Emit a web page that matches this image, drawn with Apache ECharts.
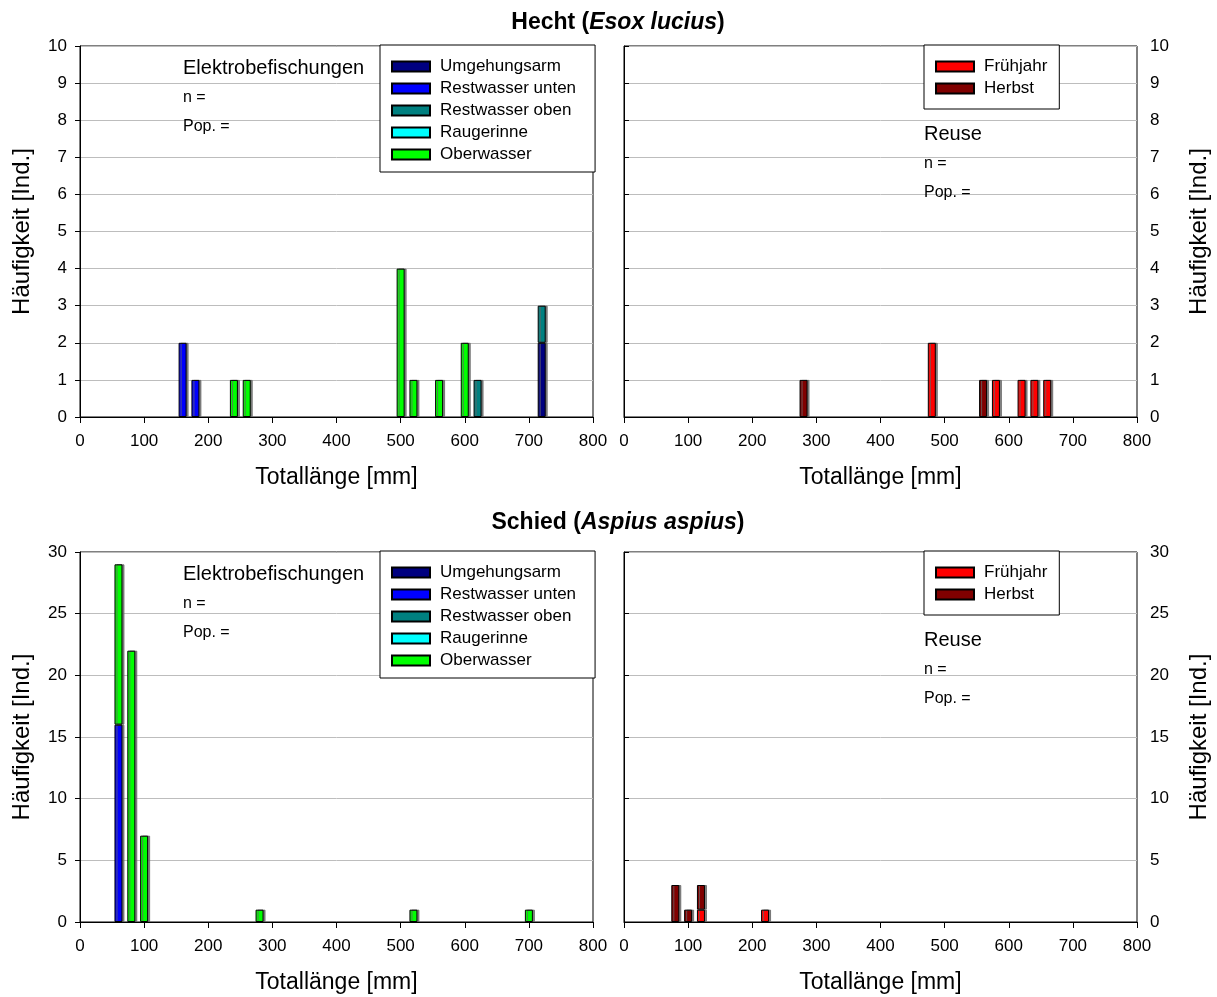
<!DOCTYPE html>
<html>
<head>
<meta charset="utf-8">
<script src="https://cdn.jsdelivr.net/npm/echarts@6/dist/echarts.min.js"></script>
<style>
html,body{margin:0;padding:0;background:#fff;}
#chart{width:1217px;height:997px;}
</style>
</head>
<body>
<div id="chart"></div>
<script>
// ---- Data ----
// Hecht, Elektrobefischung (length class centre in mm)
const hechtE_len          = [160, 180, 240, 260, 500, 520, 560, 600, 620, 720];
const hechtE_umgehungsarm = [0, 0, 0, 0, 0, 0, 0, 0, 0, 2];
const hechtE_restUnten    = [2, 1, 0, 0, 0, 0, 0, 0, 0, 0];
const hechtE_restOben     = [0, 0, 0, 0, 0, 0, 0, 0, 1, 1];
const hechtE_raugerinne   = [0, 0, 0, 0, 0, 0, 0, 0, 0, 0];
const hechtE_oberwasser   = [0, 0, 1, 1, 4, 1, 1, 2, 0, 0];

// Hecht, Reuse
const hechtR_len       = [280, 480, 560, 580, 620, 640, 660];
const hechtR_fruehjahr = [0, 2, 0, 1, 1, 1, 1];
const hechtR_herbst    = [1, 0, 1, 0, 0, 0, 0];

// Schied, Elektrobefischung
const schiedE_len          = [60, 80, 100, 280, 520, 700];
const schiedE_umgehungsarm = [0, 0, 0, 0, 0, 0];
const schiedE_restUnten    = [16, 0, 0, 0, 0, 0];
const schiedE_restOben     = [0, 0, 0, 0, 0, 0];
const schiedE_raugerinne   = [0, 0, 0, 0, 0, 0];
const schiedE_oberwasser   = [13, 22, 7, 1, 1, 1];

// Schied, Reuse
const schiedR_len       = [80, 100, 120, 220];
const schiedR_fruehjahr = [0, 0, 1, 1];
const schiedR_herbst    = [3, 1, 2, 0];

const xTicks = [0, 100, 200, 300, 400, 500, 600, 700, 800];
const elNames = ['Umgehungsarm', 'Restwasser unten', 'Restwasser oben', 'Raugerinne', 'Oberwasser'];
const elColors = ['#000080', '#0000FF', '#008080', '#00FFFF', '#00FF00'];
const reNames = ['Frühjahr', 'Herbst'];
const reColors = ['#FF0000', '#800000'];

// ---- Build ----
const FONT = '"Liberation Sans", Arial, sans-serif';
function pairs(len, vals) {
  // [count, length]: count first so that it is the stacked dimension; index-aligned
  return len.map((x, i) => [vals[i] ? vals[i] : '-', x]);
}
function barSeries(name, color, idx, data) {
  return {
    type: 'bar', name: name, xAxisIndex: idx, yAxisIndex: idx, stack: 's' + idx,
    encode: { x: 1, y: 0 },
    barWidth: 8, data: data,
    itemStyle: { color: color, borderColor: '#000', borderWidth: 1,
      shadowColor: 'rgba(100,100,100,0.8)', shadowOffsetX: 2, shadowOffsetY: 0, shadowBlur: 0 },
    emphasis: { disabled: true }, animation: false
  };
}
const grids = [
  { left: 80, top: 46, width: 513, height: 371 },
  { left: 624, top: 46, width: 513, height: 371 },
  { left: 80, top: 552, width: 513, height: 370 },
  { left: 624, top: 552, width: 513, height: 370 }
].map(g => Object.assign(g, { show: true, borderColor: '#000', borderWidth: 1, backgroundColor: 'transparent' }));

function xAx(i) {
  return {
    gridIndex: i, type: 'value', min: xTicks[0], max: xTicks[xTicks.length - 1], interval: xTicks[1] - xTicks[0],
    name: 'Totallänge [mm]', nameLocation: 'middle', nameGap: 49,
    nameTextStyle: { fontFamily: FONT, fontSize: 23, color: '#000' },
    axisLine: { lineStyle: { color: '#000', width: 1 } },
    axisTick: { show: true, length: 6, lineStyle: { color: '#000' } },
    axisLabel: { fontFamily: FONT, fontSize: 17, color: '#000', margin: 16 },
    splitLine: { show: false }
  };
}
function yAx(i, max, interval, right) {
  return {
    gridIndex: i, type: 'value', min: 0, max: max, interval: interval,
    position: right ? 'right' : 'left',
    name: 'Häufigkeit [Ind.]', nameLocation: 'middle', nameGap: right ? 50 : 46, nameRotate: 90,
    nameTextStyle: { fontFamily: FONT, fontSize: 24, color: '#000' },
    axisLine: { show: true, lineStyle: { color: '#000', width: 1 } },
    axisTick: { show: true, length: 5, lineStyle: { color: '#000' } },
    axisLabel: { fontFamily: FONT, fontSize: 17, color: '#000', margin: 13 },
    splitLine: { show: true, lineStyle: { color: '#BDBDBD', width: 1 } }
  };
}

const series = [];
const hE = [hechtE_umgehungsarm, hechtE_restUnten, hechtE_restOben, hechtE_raugerinne, hechtE_oberwasser];
hE.forEach((v, k) => series.push(barSeries(elNames[k], elColors[k], 0, pairs(hechtE_len, v))));
const hR = [hechtR_fruehjahr, hechtR_herbst];
hR.forEach((v, k) => series.push(barSeries(reNames[k], reColors[k], 1, pairs(hechtR_len, v))));
const sE = [schiedE_umgehungsarm, schiedE_restUnten, schiedE_restOben, schiedE_raugerinne, schiedE_oberwasser];
sE.forEach((v, k) => series.push(barSeries(elNames[k], elColors[k], 2, pairs(schiedE_len, v))));
const sR = [schiedR_fruehjahr, schiedR_herbst];
sR.forEach((v, k) => series.push(barSeries(reNames[k], reColors[k], 3, pairs(schiedR_len, v))));

function legend(names, left, top, padRight, bottomPad) {
  return {
    data: names, left: left, top: top, orient: 'vertical', selectedMode: false,
    icon: 'rect', itemWidth: 38, itemHeight: 10, itemGap: 5,
    padding: [13, padRight, bottomPad, 11],
    backgroundColor: '#fff', borderColor: '#000', borderWidth: 1,
    textStyle: { fontFamily: FONT, fontSize: 17, color: '#000', padding: [0, 0, 0, 5] }
  };
}

function txt(x, y, text, size) {
  return { type: 'text', x: x, y: y, z: 100,
    style: { text: text, font: size + 'px ' + FONT, fill: '#000', verticalAlign: 'middle', align: 'left' } };
}
const graphics = [];
[0, 506].forEach(dy => {
  graphics.push(txt(183, 68 + dy, 'Elektrobefischungen', 20));
  graphics.push(txt(183, 98 + dy, 'n =', 16));
  graphics.push(txt(183, 127 + dy, 'Pop. =', 16));
  graphics.push(txt(924, 134 + dy, 'Reuse', 20));
  graphics.push(txt(924, 164 + dy, 'n =', 16));
  graphics.push(txt(924, 193 + dy, 'Pop. =', 16));
});

const titleRich = {
  b: { fontFamily: FONT, fontSize: 23, fontWeight: 'bold', color: '#000' },
  bi: { fontFamily: FONT, fontSize: 23, fontWeight: 'bold', fontStyle: 'italic', color: '#000' }
};
const option = {
  backgroundColor: '#fff',
  animation: false,
  title: [
    { text: '{b|Hecht (}{bi|Esox lucius}{b|)}', left: 613, textAlign: 'center', top: 6, textStyle: { rich: titleRich } },
    { text: '{b|Schied (}{bi|Aspius aspius}{b|)}', left: 613, textAlign: 'center', top: 506, textStyle: { rich: titleRich } }
  ],
  grid: grids,
  xAxis: [xAx(0), xAx(1), xAx(2), xAx(3)],
  yAxis: [yAx(0, 10, 1, false), yAx(1, 10, 1, true), yAx(2, 30, 5, false), yAx(3, 30, 5, true)],
  legend: [
    legend(elNames, 380, 45, 19, 9),
    legend(reNames, 924, 45, 12, 12),
    legend(elNames, 380, 551, 19, 9),
    legend(reNames, 924, 551, 12, 12)
  ],
  graphic: graphics,
  series: series
};
const chart = echarts.init(document.getElementById('chart'), null, { renderer: 'canvas' });
chart.setOption(option);
</script>
</body>
</html>
